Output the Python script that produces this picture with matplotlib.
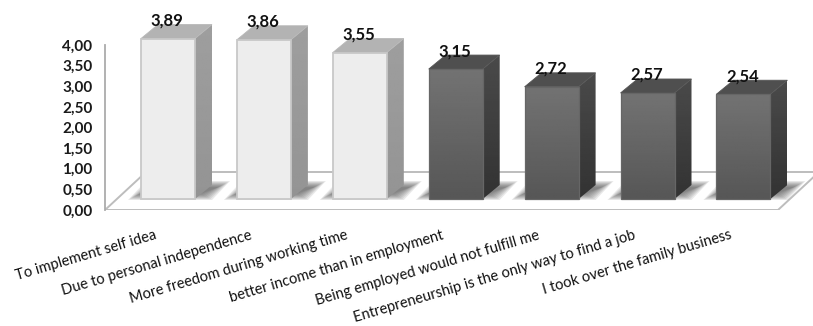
import numpy as np
import matplotlib
matplotlib.use("Agg")
import matplotlib.pyplot as plt
from matplotlib.patches import Polygon

categories = [
    "To implement self idea",
    "Due to personal independence",
    "More freedom during working time",
    "better income than in employment",
    "Being employed would not fulfill me",
    "Entrepreneurship is the only way to find a job",
    "I took over the family business",
]
values = [3.89, 3.86, 3.55, 3.15, 2.72, 2.57, 2.54]
value_labels = ["3,89", "3,86", "3,55", "3,15", "2,72", "2,57", "2,54"]
y_ticks = [0, 0.5, 1, 1.5, 2, 2.5, 3, 3.5, 4]
y_tick_labels = ["0,00", "0,50", "1,00", "1,50", "2,00", "2,50", "3,00", "3,50", "4,00"]
light_count = 3

plt.rcParams["font.family"] = ["Lato", "DejaVu Sans"]

W, H = 813, 326
PX_X = 95.9       # pixels per category
PX_Y = 41.25      # pixels per value unit
LEFT, FLOOR_Y = 105, 210
FIRST_CENTER = 168

fig = plt.figure(figsize=(W / 100, H / 100), dpi=100, facecolor="white")
ax = fig.add_axes([LEFT / W, 1 - FLOOR_Y / H, 1 - LEFT / W, FLOOR_Y / H])
ax.set_xlim((LEFT - FIRST_CENTER) / PX_X, (W - FIRST_CENTER) / PX_X)
ax.set_ylim(0, FLOOR_Y / PX_Y)


def dx(px):
    return px / PX_X


def dy(px):
    return px / PX_Y


# Floor plane in oblique projection
floor_depth_x, floor_depth_y = dx(41), dy(38)
x0, x1 = ax.get_xlim()
floor_right = x1 - dx(35)
floor = Polygon(
    [(x0, 0), (floor_right, 0), (floor_right + floor_depth_x, floor_depth_y),
     (x0 + floor_depth_x, floor_depth_y)],
    closed=True, facecolor="white", edgecolor="#BDBDBD", lw=1.4, zorder=1,
)
ax.add_patch(floor)

half = dx(27)
depth_x, depth_y = dx(17), dy(14)
base = dy(11)


def gradient_fill(poly_pts, top_col, bottom_col, zorder):
    """Fill a polygon with a vertical grey gradient."""
    pts = np.array(poly_pts)
    grad = np.linspace(top_col, bottom_col, 64).reshape(-1, 1)
    im = ax.imshow(
        grad, cmap="gray", vmin=0, vmax=1, aspect="auto", interpolation="bilinear",
        extent=(pts[:, 0].min(), pts[:, 0].max(), pts[:, 1].min(), pts[:, 1].max()),
        zorder=zorder,
    )
    clip = Polygon(pts, closed=True, transform=ax.transData, facecolor="none", edgecolor="none")
    ax.add_patch(clip)
    im.set_clip_path(clip)


for i, v in enumerate(values):
    light = i < light_count
    l, r = i - half, i + half
    top = base + v

    # Soft cast shadow on the floor, built from nested translucent layers
    sx0, sx1 = l - dx(13), r + dx(17)
    sy0, sy1 = base - dy(1), base + dy(18)
    skew = dx(18)
    for k in range(8):
        inset = k * 1.6
        ix, iy = dx(inset), dy(inset * 0.55)
        ax.add_patch(Polygon(
            [(sx0 + ix, sy0 + iy), (sx1 - ix, sy0 + iy),
             (sx1 + skew - ix, sy1 - iy), (sx0 + skew + ix, sy1 - iy)],
            closed=True, facecolor="#3A3A3A", edgecolor="none", alpha=0.11, zorder=2,
        ))

    front = [(l, base), (r, base), (r, top), (l, top)]
    side = [(r, base), (r + depth_x, base + depth_y),
            (r + depth_x, top + depth_y), (r, top)]
    cap = [(l, top), (r, top), (r + depth_x, top + depth_y), (l + depth_x, top + depth_y)]

    if light:
        gradient_fill(side, 0.62, 0.58, 3)
        ax.add_patch(Polygon(cap, closed=True, facecolor="#B3B3B3", edgecolor="#B8B8B8", lw=0.6, zorder=4))
        ax.add_patch(Polygon(front, closed=True, facecolor="#EDEDED", edgecolor="#C8C8C8", lw=1.3, zorder=5))
    else:
        gradient_fill(side, 0.29, 0.20, 3)
        ax.add_patch(Polygon(cap, closed=True, facecolor="#4F4F4F", edgecolor="#555555", lw=0.6, zorder=4))
        gradient_fill(front, 0.45, 0.34, 5)
        ax.add_patch(Polygon(front, closed=True, facecolor="none", edgecolor="#666666", lw=0.9, zorder=6))

    ax.text(i - dx(1), top + dy(18), value_labels[i], ha="center", va="center",
            fontsize=12, fontweight="bold", color="#111111", zorder=8)

    # Slanted category label anchored by its upper-right end
    ax.annotate(categories[i], xy=(i, 0), xytext=(-14, -18), textcoords="offset pixels",
                rotation=16.5, ha="right", va="top", rotation_mode="anchor",
                fontsize=10.5, color="#111111", annotation_clip=False)

ax.set_xlim(x0, x1)
ax.set_ylim(0, FLOOR_Y / PX_Y)

for name in ("top", "right", "bottom"):
    ax.spines[name].set_visible(False)
ax.patch.set_visible(False)
ax.spines["left"].set_bounds(0, 4)
ax.spines["left"].set_color("#ABABAB")
ax.spines["left"].set_linewidth(1.3)

ax.set_yticks(y_ticks)
ax.set_yticklabels(y_tick_labels, fontsize=11, fontweight="bold", color="#1A1A1A")
ax.tick_params(axis="y", length=0, pad=9)
ax.set_xticks([])

fig.savefig("out.png", dpi=100, facecolor="white")
